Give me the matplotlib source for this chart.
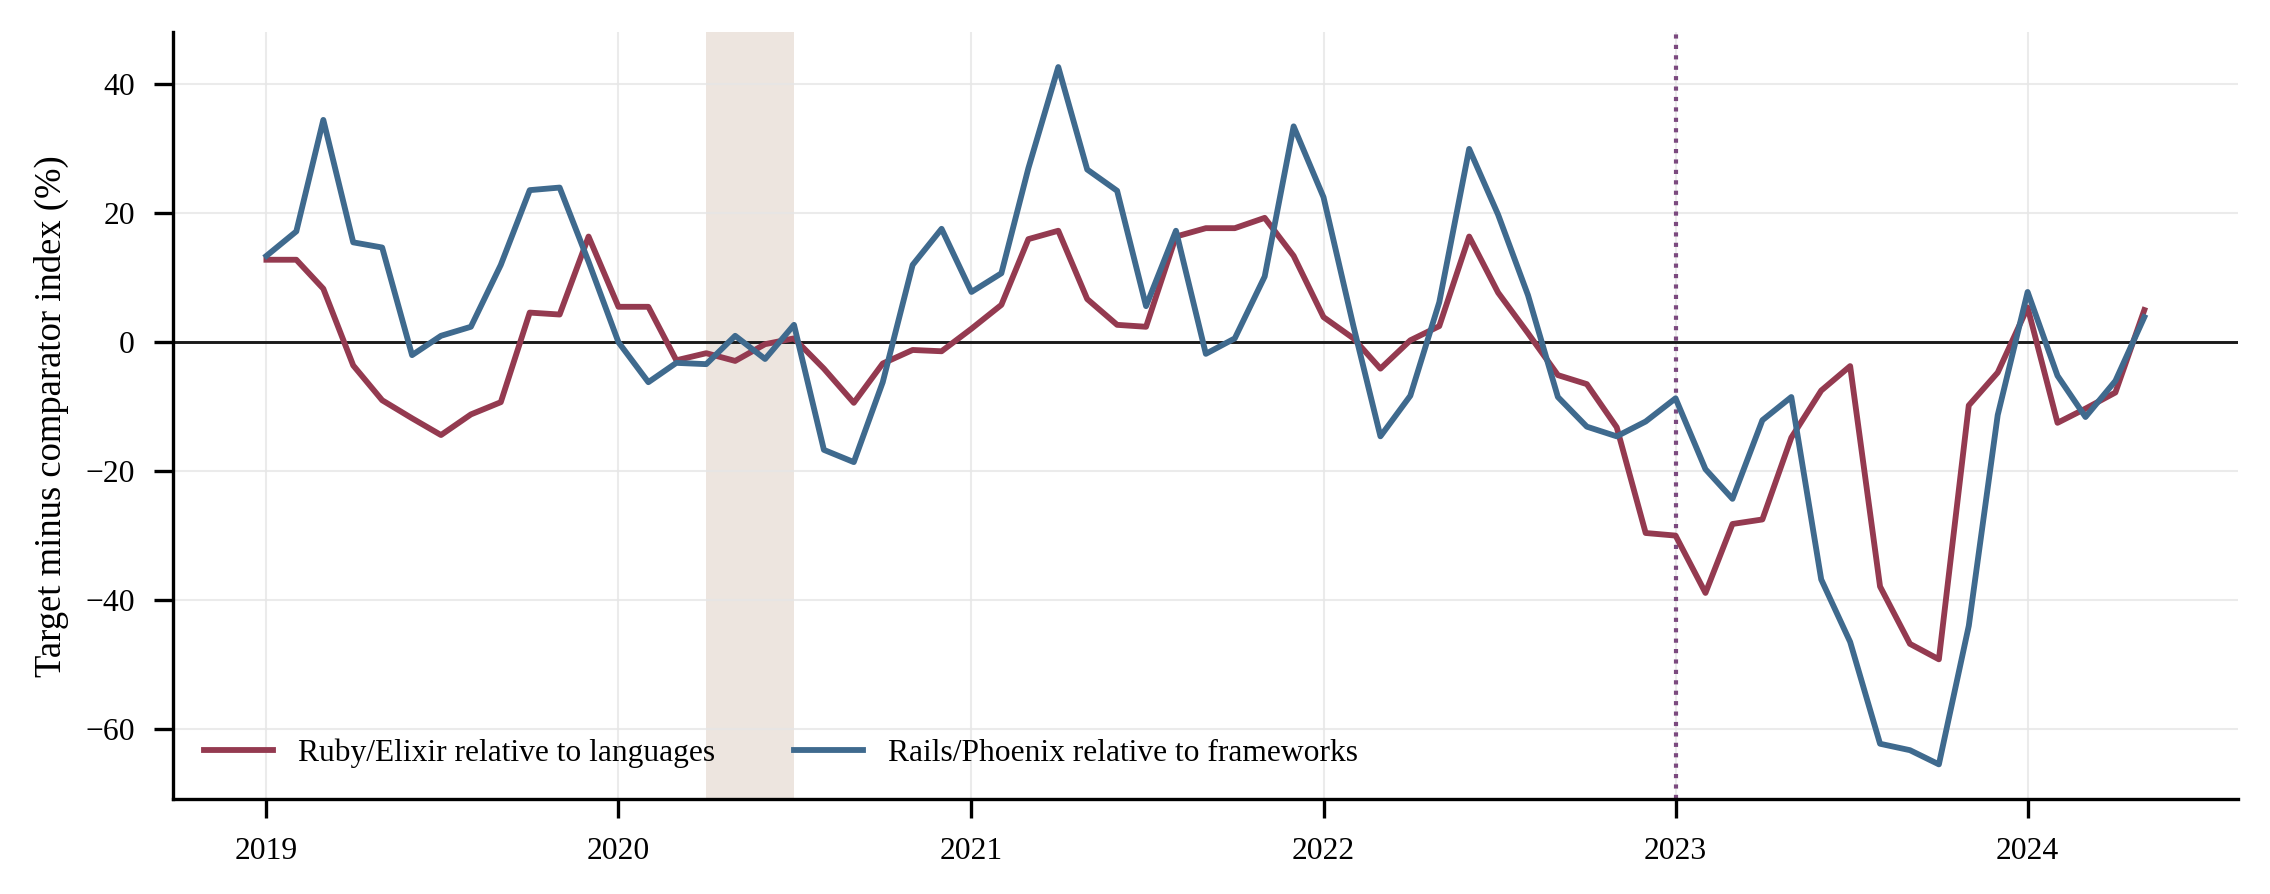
import pandas as pd
import matplotlib.pyplot as plt

# Monthly gap between target index and comparator index, Jan 2019 - May 2024
months = pd.date_range('2019-01-01', periods=65, freq='MS')

ruby_elixir = [
    12.8, 12.8, 8.3, -3.6, -9.0, -11.8, -14.4, -11.2, -9.3, 4.6, 4.3, 16.4,
    5.5, 5.5, -2.8, -1.7, -2.9, -0.3, 0.6, -4.1, -9.4, -3.3, -1.2, -1.4,
    2.1, 5.8, 16.0, 17.3, 6.7, 2.7, 2.4, 16.4, 17.7, 17.7, 19.3, 13.4,
    3.9, 0.6, -4.1, 0.3, 2.5, 16.4, 7.7, 1.4, -5.1, -6.5, -13.2, -29.6,
    -30.0, -38.9, -28.2, -27.5, -14.8, -7.5, -3.7, -37.9, -46.8, -49.2, -9.8, -4.7,
    5.4, -12.5, -10.3, -7.8, 5.0,
]

rails_phoenix = [
    13.4, 17.2, 34.5, 15.5, 14.7, -2.0, 1.0, 2.4, 12.0, 23.6, 24.0, 12.5,
    0.0, -6.2, -3.2, -3.4, 1.0, -2.6, 2.7, -16.7, -18.6, -6.2, 12.0, 17.6,
    7.8, 10.7, 27.0, 42.7, 26.8, 23.5, 5.6, 17.3, -1.8, 0.6, 10.2, 33.5,
    22.5, 2.5, -14.6, -8.3, 6.2, 30.0, 19.8, 7.3, -8.5, -13.1, -14.6, -12.3,
    -8.7, -19.7, -24.3, -12.1, -8.5, -36.8, -46.5, -62.3, -63.3, -65.5, -44.0, -11.3,
    7.8, -5.2, -11.6, -6.0, 3.9,
]

shade_start = pd.Timestamp('2020-04-01')
shade_end = pd.Timestamp('2020-07-01')
marker_date = pd.Timestamp('2023-01-01')
year_ticks = pd.date_range('2019-01-01', '2024-01-01', freq='YS')


def main():
    plt.rcParams['font.family'] = ['Liberation Serif', 'DejaVu Serif']
    plt.rcParams['font.size'] = 8
    plt.rcParams['axes.unicode_minus'] = True

    fig, ax = plt.subplots(figsize=(2270 / 300, 894 / 300), dpi=300)
    fig.subplots_adjust(left=0.076, right=0.986, top=0.964, bottom=0.106)

    ax.axvspan(shade_start, shade_end, color='#ede5df', lw=0, zorder=0)
    ax.axvline(marker_date, color='#7b4a7f', lw=1.0, ls=(0, (1, 1.5)), zorder=1)
    ax.axhline(0, color='#1a1a1a', lw=0.7, zorder=2)

    ax.plot(months, ruby_elixir, color='#943a50', lw=1.4,
            label='Ruby/Elixir relative to languages', zorder=3)
    ax.plot(months, rails_phoenix, color='#3f6a8e', lw=1.4,
            label='Rails/Phoenix relative to frameworks', zorder=4)

    ax.set_xticks(year_ticks)
    ax.set_xticklabels([str(d.year) for d in year_ticks])
    ax.set_yticks([-60, -40, -20, 0, 20, 40])
    ax.set_ylabel('Target minus comparator index (%)', fontsize=8.8, labelpad=4)

    ax.grid(True, color='#e6e6e6', lw=0.5, alpha=0.8)
    ax.set_axisbelow(True)
    for side in ['top', 'right']:
        ax.spines[side].set_visible(False)
    for side in ['left', 'bottom']:
        ax.spines[side].set_linewidth(0.8)
    ax.tick_params(direction='out', length=4.5, width=0.8, labelsize=7.6, pad=4.5)

    ax.legend(loc='lower left', ncol=2, frameon=False, fontsize=7.55,
              handlelength=2.2, columnspacing=2.5, borderaxespad=0.6)

    fig.savefig('out.png', dpi=300)


if __name__ == "__main__":
    main()
